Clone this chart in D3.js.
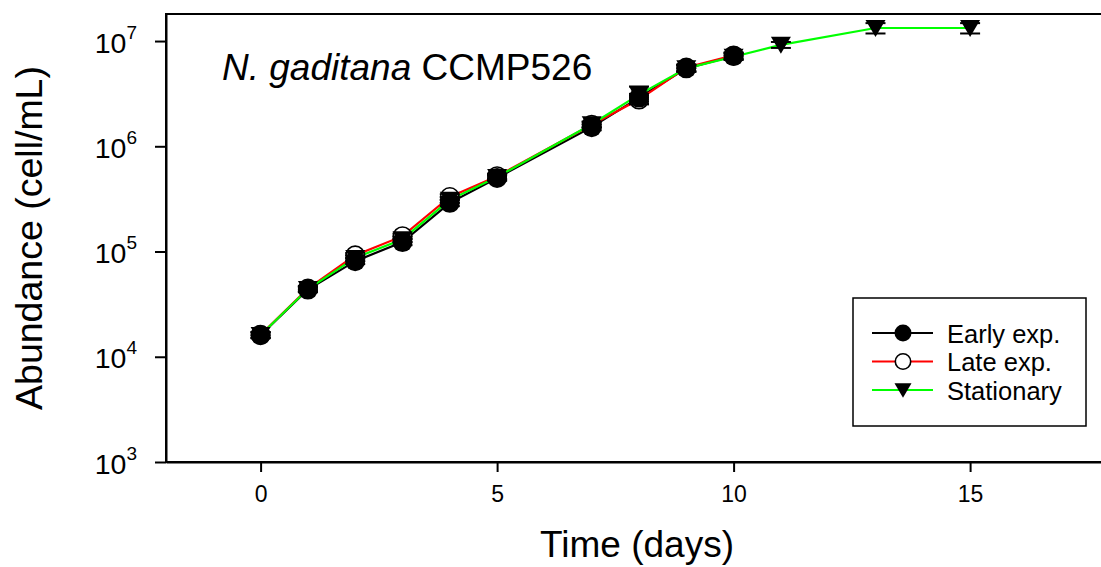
<!DOCTYPE html>
<html>
<head>
<meta charset="utf-8">
<script src="https://cdn.jsdelivr.net/npm/d3@7"></script>
<style>
  html, body { margin: 0; padding: 0; background: #fff; }
  svg { display: block; font-family: "Liberation Sans", Arial, sans-serif; }
</style>
</head>
<body>
<svg id="chart" width="1101" height="567"></svg>
<script>
// ---- data ----
const daysExp = [0, 1, 2, 3, 4, 5, 7, 8, 9, 10];
const daysStat = [0, 1, 2, 3, 4, 5, 7, 8, 9, 10, 11, 13, 15];
const earlyExp = [1.60e4, 4.35e4, 8.1e4, 1.23e5, 2.9e5, 5.0e5, 1.52e6, 2.9e6, 5.5e6, 7.2e6];
const earlyErr = [1.0e3, 2.5e3, 5.0e3, 8.0e3, 2.0e4, 3.0e4, 1.0e5, 2.5e5, 4.0e5, 5.0e5];
const lateExp = [1.62e4, 4.45e4, 9.2e4, 1.40e5, 3.3e5, 5.2e5, 1.60e6, 2.78e6, 5.6e6, 7.3e6];
const lateErr = [1.0e3, 2.5e3, 5.0e3, 8.0e3, 2.0e4, 3.0e4, 1.0e5, 2.5e5, 4.0e5, 5.0e5];
const stationary = [1.61e4, 4.4e4, 8.7e4, 1.31e5, 3.1e5, 5.1e5, 1.62e6, 3.1e6, 5.5e6, 7.1e6, 9.2e6, 1.33e7, 1.33e7];
const statErr = [1.0e3, 2.5e3, 5.0e3, 8.0e3, 2.0e4, 3.0e4, 1.0e5, 6.0e5, 4.0e5, 5.0e5, 6.0e5, 1.5e6, 1.5e6];
const xTicks = [0, 5, 10, 15];
const yTickExps = [3, 4, 5, 6, 7];
const seriesNames = ["Early exp.", "Late exp.", "Stationary"];
const seriesColors = ["#000000", "#ff0000", "#00ff00"];
const titleItalic = "N. gaditana";
const titleRest = " CCMP526";
const xTitle = "Time (days)";
const yTitle = "Abundance (cell/mL)";

// ---- layout ----
const svg = d3.select("#chart");
const pLeft = 166, pRight = 1112, pTop = 14, pBottom = 462;
const x = d3.scaleLinear().domain([-2, 18]).range([pLeft, pRight]);
const y = d3.scaleLog().domain([1e3, Math.pow(10, 7.257)]).range([pBottom, pTop]);

const series = [
  { name: seriesNames[0], color: seriesColors[0], days: daysExp, vals: earlyExp, err: earlyErr, sym: "filled" },
  { name: seriesNames[1], color: seriesColors[1], days: daysExp, vals: lateExp, err: lateErr, sym: "open" },
  { name: seriesNames[2], color: seriesColors[2], days: daysStat, vals: stationary, err: statErr, sym: "tri" }
];

// frame (top and right)
svg.append("rect").attr("x", pLeft).attr("y", pTop)
  .attr("width", pRight - pLeft).attr("height", pBottom - pTop)
  .attr("fill", "none").attr("stroke", "#000").attr("stroke-width", 2);

// axes
const xAxis = d3.axisBottom(x).tickValues(xTicks).tickSize(10).tickSizeOuter(0).tickPadding(14);
const gx = svg.append("g").attr("transform", `translate(0,${pBottom})`).call(xAxis);
gx.select(".domain").attr("stroke-width", 2);
gx.selectAll(".tick line").attr("stroke-width", 2);
gx.selectAll(".tick text").attr("font-size", 23).attr("font-family", "Liberation Sans, Arial, sans-serif").attr("fill", "#000");

const yAxis = d3.axisLeft(y).tickValues(yTickExps.map(e => Math.pow(10, e))).tickSize(11).tickSizeOuter(0).tickFormat(() => "");
const gy = svg.append("g").attr("transform", `translate(${pLeft},0)`).call(yAxis);
gy.select(".domain").attr("stroke-width", 2);
gy.selectAll(".tick line").attr("stroke-width", 2);
gy.selectAll(".tick text").each(function(d) {
  const t = d3.select(this);
  t.text(null).attr("x", -29).attr("dy", null).attr("y", 11)
    .attr("font-size", 28.5).attr("font-family", "Liberation Sans, Arial, sans-serif")
    .attr("fill", "#000").attr("text-anchor", "end");
  t.append("tspan").text("10");
  t.append("tspan").attr("font-size", 19).attr("dy", -14).text(Math.round(Math.log10(d)));
});

// axis titles
svg.append("text").attr("x", (pLeft + pRight) / 2 - 2).attr("y", 557)
  .attr("text-anchor", "middle").attr("font-size", 37).attr("fill", "#000").text(xTitle);
svg.append("text").attr("transform", `translate(42,238) rotate(-90)`)
  .attr("text-anchor", "middle").attr("font-size", 37.5).attr("fill", "#000").text(yTitle);

// annotation
const ann = svg.append("text").attr("x", 222).attr("y", 80).attr("font-size", 37).attr("fill", "#000");
ann.append("tspan").attr("font-style", "italic").text(titleItalic);
ann.append("tspan").text(titleRest);

// lines
const line = d3.line().x(d => x(d[0])).y(d => y(d[1]));
series.forEach(s => {
  svg.append("path").datum(s.days.map((d, i) => [d, s.vals[i]]))
    .attr("d", line).attr("fill", "none").attr("stroke", s.color).attr("stroke-width", 2.2);
});

// error bars + markers
const triPath = "M-10,-8 L10,-8 L0,9 Z";
function drawMarker(g, sym, cx, cy, r) {
  if (sym === "filled") {
    g.append("circle").attr("cx", cx).attr("cy", cy).attr("r", r).attr("fill", "#000");
  } else if (sym === "open") {
    g.append("circle").attr("cx", cx).attr("cy", cy).attr("r", r - 0.8).attr("fill", "#fff")
      .attr("stroke", "#000").attr("stroke-width", 1.6);
  } else {
    g.append("path").attr("d", triPath).attr("transform", `translate(${cx},${cy}) scale(${r / 10})`).attr("fill", "#000");
  }
}
// draw order of markers: late (open), early (filled), stationary (triangle)
[series[1], series[0], series[2]].forEach(s => {
  const g = svg.append("g");
  s.days.forEach((d, i) => {
    const cx = x(d), hi = y(s.vals[i] + s.err[i]), lo = y(s.vals[i] - s.err[i]);
    g.append("line").attr("x1", cx).attr("x2", cx).attr("y1", hi).attr("y2", lo).attr("stroke", "#000").attr("stroke-width", 1.5);
    [hi, lo].forEach(yy => g.append("line").attr("x1", cx - 10).attr("x2", cx + 10).attr("y1", yy).attr("y2", yy)
      .attr("stroke", "#000").attr("stroke-width", 2));
  });
  s.days.forEach((d, i) => drawMarker(g, s.sym, x(d), y(s.vals[i]), 10));
});

// legend
const lg = svg.append("g");
lg.append("rect").attr("x", 853).attr("y", 298).attr("width", 233).attr("height", 128)
  .attr("fill", "#fff").attr("stroke", "#000").attr("stroke-width", 1.5);
series.forEach((s, i) => {
  const ly = 333 + i * 28.5;
  lg.append("line").attr("x1", 872).attr("x2", 933).attr("y1", ly).attr("y2", ly)
    .attr("stroke", s.color).attr("stroke-width", 2);
  drawMarker(lg, s.sym, 903, ly, 8.5);
  lg.append("text").attr("x", 947).attr("y", ly + 9.5).attr("font-size", 25.5).attr("fill", "#000").text(s.name);
});
</script>
</body>
</html>
